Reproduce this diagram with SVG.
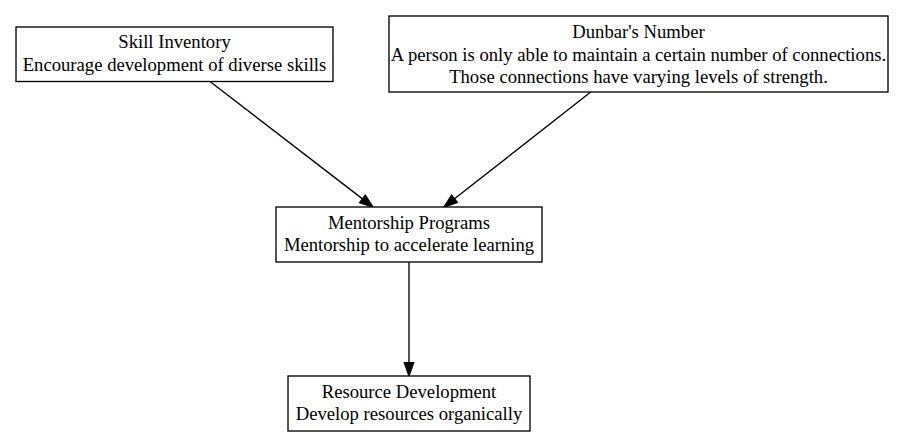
<svg xmlns="http://www.w3.org/2000/svg" width="913" height="447" viewBox="0 0 913 447">
<style>
.box{fill:#fff;stroke:#000;stroke-width:1.33}
.t{font-family:"Liberation Serif","Times New Roman",serif;font-size:18.67px;fill:#000;text-anchor:middle}
.e{fill:none;stroke:#000;stroke-width:1.33}
.ah{fill:#000;stroke:#000;stroke-width:1.33}
</style>
<rect width="913" height="447" fill="#fff"/>
<g id="connectors">
<path class="e" d="M210,81.5 L362.5,198.9"/>
<polygon class="ah" points="373,207 359.6,202.6 365.3,195.2"/>
<path class="e" d="M590.7,92 L454.5,198.8"/>
<polygon class="ah" points="444,207 457.4,202.5 451.6,195.1"/>
<path class="e" d="M409,262 L409,362.7"/>
<polygon class="ah" points="409,376 404.3,362.7 413.7,362.7"/>
</g>
<g id="skill">
<rect class="box" x="16" y="27" width="317" height="54.5"/>
<text class="t" x="174.5" y="48.2">Skill Inventory</text>
<text class="t" x="174.5" y="70.6">Encourage development of diverse skills</text>
</g>
<g id="dunbar">
<rect class="box" x="389" y="16" width="499" height="76"/>
<text class="t" x="638.5" y="38.4">Dunbar's Number</text>
<text class="t" x="638.5" y="60.8">A person is only able to maintain a certain number of connections.</text>
<text class="t" x="638.5" y="83.2">Those connections have varying levels of strength.</text>
</g>
<g id="mentorship">
<rect class="box" x="276" y="207" width="266" height="55"/>
<text class="t" x="409" y="228.5">Mentorship Programs</text>
<text class="t" x="409" y="250.9">Mentorship to accelerate learning</text>
</g>
<g id="resource">
<rect class="box" x="288" y="376" width="242" height="55"/>
<text class="t" x="409" y="397.5">Resource Development</text>
<text class="t" x="409" y="419.9">Develop resources organically</text>
</g>
</svg>
